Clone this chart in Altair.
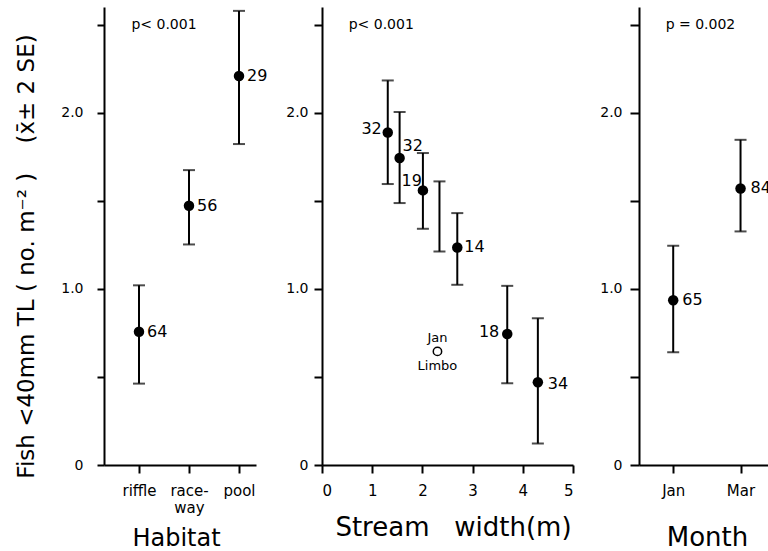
import json
import altair as alt
import pandas as pd

FONT = "DejaVu Sans"

# ---------------- data ----------------
# Panel 1: habitat
habitat = ["riffle", "race-\nway", "pool"]
habitat_mean = [0.756, 1.472, 2.208]
habitat_lo = [0.462, 1.252, 1.822]
habitat_hi = [1.020, 1.674, 2.578]
habitat_n = ["64", "56", "29"]

# Panel 2: stream width (m)
width_m = [1.31, 1.546, 2.01, 2.34, 2.695, 3.69, 4.30]
width_mean = [1.888, 1.743, 1.559, None, 1.235, 0.744, 0.470]
width_lo = [1.595, 1.487, 1.341, 1.212, 1.023, 0.464, 0.122]
width_hi = [2.183, 2.004, 1.771, 1.610, 1.430, 1.017, 0.833]
width_n = ["32", "32", "19", "", "14", "18", "34"]

limbo_width = [2.30]
limbo_mean = [0.645]
limbo_text = ["Jan", "Limbo"]

# Panel 3: month
month = ["Jan", "Mar"]
month_mean = [0.935, 1.570]
month_lo = [0.640, 1.326]
month_hi = [1.245, 1.846]
month_n = ["65", "84"]

p_text = ["p< 0.001", "p< 0.001", "p = 0.002"]

y_ticks = [0, 0.5, 1.0, 1.5, 2.0, 2.5]
Y_MAX = 2.6
H = 458

y_title = "Fish <40mm TL ( no. m\u207b\u00b2 )\u00a0\u00a0\u00a0\u00a0(x\u0304\u00b1 2 SE)"

ylabel_expr = ("datum.value == 0 ? '0' : "
               "(datum.value % 1 == 0 ? format(datum.value, '.1f') : '')")

yscale = alt.Scale(domain=[0, Y_MAX], nice=False, zero=True)


def y_axis(title, label_pad, tick):
    kw = dict(values=y_ticks, labelExpr=ylabel_expr, tickSize=tick,
              labelPadding=label_pad, labelFontSize=14, grid=False)
    if title is not None:
        kw.update(title=title, titleFontSize=23, titlePadding=22, titleY=249,
                  titleFontWeight="normal", titleFont=FONT)
    else:
        kw.update(title=None)
    return alt.Axis(**kw)


def errorbar_layers(df, x, yaxis, clip=False):
    rule = alt.Chart(df).mark_rule(color="black", strokeWidth=2, clip=clip).encode(
        x=x, y=alt.Y("lo:Q", scale=yscale, axis=yaxis), y2="hi:Q")
    cap_lo = alt.Chart(df).mark_tick(color="black", thickness=2, size=12,
                                     orient="horizontal", clip=clip).encode(
        x=x, y=alt.Y("lo:Q", scale=yscale, axis=yaxis))
    cap_hi = alt.Chart(df).mark_tick(color="black", thickness=2, size=12,
                                     orient="horizontal", clip=clip).encode(
        x=x, y=alt.Y("hi:Q", scale=yscale, axis=yaxis))
    dots = alt.Chart(df).transform_filter("isValid(datum.mean)").mark_circle(
        size=110, color="black", opacity=1, clip=clip).encode(
        x=x, y=alt.Y("mean:Q", scale=yscale, axis=yaxis))
    return [rule, cap_lo, cap_hi, dots]


def n_labels(df, x, yaxis, styles, clip=False):
    layers = []
    for i, (align, dx, dy) in enumerate(styles):
        if align is None:
            continue
        layers.append(
            alt.Chart(df).transform_filter(f"datum.i == {i}").mark_text(
                align=align, baseline="middle", dx=dx, dy=dy, fontSize=16,
                font=FONT, color="black", clip=clip).encode(
                x=x, y=alt.Y("mean:Q", scale=yscale, axis=yaxis), text="n:N"))
    return layers


def p_layer(xpos, text, x_field_enc, yaxis, clip=False):
    d = pd.DataFrame({"xp": [xpos], "yp": [2.5], "t": [text]})
    return alt.Chart(d).mark_text(fontSize=14, font=FONT, color="black",
                                  align="center", baseline="middle", clip=clip).encode(
        x=x_field_enc("xp"), y=alt.Y("yp:Q", scale=yscale, axis=yaxis), text="t:N")


# ---------------- panel 1 ----------------
df1 = pd.DataFrame({"i": range(len(habitat)), "mean": habitat_mean,
                    "lo": habitat_lo, "hi": habitat_hi, "n": habitat_n})
hab_expr = "split(" + json.dumps(habitat) + "[round(datum.value)], '\\n')"
x1_axis = alt.Axis(values=[0, 1, 2], labelExpr=hab_expr, tickSize=8, labelPadding=10,
                   labelFontSize=15, labelLineHeight=17, title="Habitat",
                   titleFontSize=24, titleFontWeight="normal", titleY=80, titleX=72,
                   titleBaseline="alphabetic", grid=False)
x1_scale = alt.Scale(domain=[-0.7, 2.34], nice=False, zero=False)


def x1(field):
    return alt.X(f"{field}:Q", scale=x1_scale, axis=x1_axis)


ya1 = y_axis(y_title, 14, 7)
p1 = alt.layer(
    *errorbar_layers(df1, x1("i"), ya1),
    *n_labels(df1, x1("i"), ya1, [("left", 8, 0)] * 3),
    p_layer(0.5, p_text[0], x1, ya1),
).properties(width=152, height=H)

# ---------------- panel 2 ----------------
df2 = pd.DataFrame({"i": range(len(width_m)), "w": width_m, "mean": width_mean,
                    "lo": width_lo, "hi": width_hi, "n": width_n})
x2_axis = alt.Axis(values=[0, 1, 2, 3, 4, 5], format="d", tickSize=8, labelPadding=10,
                   labelFontSize=15, title="Stream\u00a0\u00a0\u00a0width(m)",
                   titleFontSize=26, titleFontWeight="normal", titleY=70, titleX=131,
                   titleBaseline="alphabetic", grid=False)
x2_scale = alt.Scale(domain=[0, 5], nice=False, zero=True)


def x2(field):
    return alt.X(f"{field}:Q", scale=x2_scale, axis=x2_axis)


ya2 = y_axis(None, 6, 8)
styles2 = [("right", -6, -3), ("left", 3, -12), ("right", -1, -9), (None, 0, 0),
           ("left", 7, 0), ("right", -8, -2), ("left", 10, 2)]
dlimbo = pd.DataFrame({"w": limbo_width, "mean": limbo_mean})
dl_txt = pd.DataFrame({"w": limbo_width * 2, "mean": limbo_mean * 2, "t": limbo_text,
                       "k": [0, 1]})
limbo_pt = alt.Chart(dlimbo).mark_point(shape="circle", size=70, filled=False,
                                        color="black", strokeWidth=1.5, opacity=1).encode(
    x=x2("w"), y=alt.Y("mean:Q", scale=yscale, axis=ya2))
limbo_t1 = alt.Chart(dl_txt).transform_filter("datum.k == 0").mark_text(
    fontSize=13, font=FONT, dy=-13, baseline="middle", color="black").encode(
    x=x2("w"), y=alt.Y("mean:Q", scale=yscale, axis=ya2), text="t:N")
limbo_t2 = alt.Chart(dl_txt).transform_filter("datum.k == 1").mark_text(
    fontSize=13, font=FONT, dy=15, baseline="middle", color="black").encode(
    x=x2("w"), y=alt.Y("mean:Q", scale=yscale, axis=ya2), text="t:N")

p2 = alt.layer(
    *errorbar_layers(df2, x2("w"), ya2),
    *n_labels(df2, x2("w"), ya2, styles2),
    limbo_pt, limbo_t1, limbo_t2,
    p_layer(1.18, p_text[1], x2, ya2),
).properties(width=251, height=H)

# ---------------- panel 3 ----------------
df3 = pd.DataFrame({"i": range(len(month)), "mean": month_mean,
                    "lo": month_lo, "hi": month_hi, "n": month_n})
mon_expr = json.dumps(month) + "[round(datum.value)]"
x3_axis = alt.Axis(values=[0, 1], labelExpr=mon_expr, tickSize=8, labelPadding=10,
                   labelFontSize=15, title="Month", titleFontSize=26, titleX=68,
                   titleFontWeight="normal", titleY=80, titleBaseline="alphabetic",
                   grid=False)
x3_scale = alt.Scale(domain=[-0.508, 1.408], nice=False, zero=False)


def x3(field):
    return alt.X(f"{field}:Q", scale=x3_scale, axis=x3_axis)


ya3 = y_axis(None, 8, 9)
p3 = alt.layer(
    *errorbar_layers(df3, x3("i"), ya3, clip=True),
    *n_labels(df3, x3("i"), ya3, [("left", 9, 0), ("left", 10, 0)], clip=True),
    p_layer(0.405, p_text[2], x3, ya3, clip=True),
).properties(width=129, height=H)

chart = alt.hconcat(p1, p2, p3, spacing=66, bounds="flush").properties(
    padding={"left": 15, "top": 7, "right": 0, "bottom": 0},
    background="white",
).configure_view(stroke=None).configure_axis(
    domainColor="black", domainWidth=2, tickColor="black", tickWidth=2,
    labelColor="black", titleColor="black", labelFont=FONT, titleFont=FONT,
).configure_text(font=FONT)

chart.save("out.html", embed_options={"renderer": "svg", "actions": False})
